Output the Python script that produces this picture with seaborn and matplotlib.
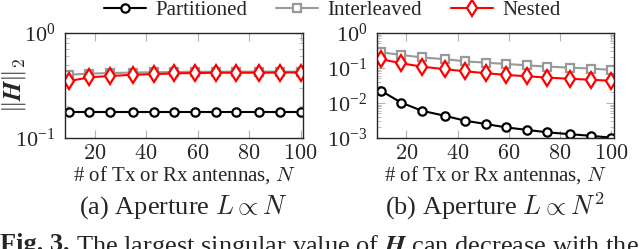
import seaborn as sns
import matplotlib.pyplot as plt
import pandas as pd
import numpy as np
from matplotlib.ticker import LogLocator, NullFormatter

# antenna counts
n_ant = [10, 18, 26, 35, 43, 51, 59, 67, 75, 84, 92, 100]

# (a) aperture L ~ N
part_a = [0.178, 0.178, 0.178, 0.178, 0.178, 0.178, 0.178, 0.178, 0.178, 0.178, 0.178, 0.178]
inter_a = [0.40, 0.41, 0.415, 0.42, 0.422, 0.425, 0.427, 0.427, 0.428, 0.428, 0.428, 0.428]
nest_a = [0.348, 0.378, 0.389, 0.40, 0.405, 0.412, 0.415, 0.418, 0.418, 0.418, 0.42, 0.42]

# (b) aperture L ~ N^2
part_b = [0.0224, 0.0102, 0.0060, 0.0043, 0.0031, 0.0025, 0.0020, 0.0017, 0.00145, 0.00128, 0.00115, 0.00102]
inter_b = [0.28, 0.235, 0.20, 0.178, 0.155, 0.141, 0.13, 0.119, 0.109, 0.102, 0.096, 0.088]
nest_b = [0.178, 0.136, 0.109, 0.092, 0.080, 0.071, 0.063, 0.058, 0.053, 0.049, 0.046, 0.043]

names = ['Partitioned', 'Interleaved', 'Nested']
colors = ['black', '#999999', 'red']
marks = ['o', 's', 'd']
xticks = [20, 40, 60, 80, 100]

sns.set_style('ticks')
plt.rcParams['font.family'] = ['Liberation Serif', 'DejaVu Serif']
plt.rcParams['mathtext.fontset'] = 'cm'
plt.rcParams['font.size'] = 15

fig = plt.figure(figsize=(6.4, 2.49), dpi=100)
ax1 = fig.add_axes([0.1016, 0.446, 0.372, 0.4217])
ax2 = fig.add_axes([0.589, 0.446, 0.370, 0.4217])


def draw(ax, series, ylim):
    '''one panel, three series'''
    for s, nm, c, m in zip(series, names, colors, marks):
        df = pd.DataFrame({'N': n_ant, 'val': s})
        sns.lineplot(data=df, x='N', y='val', ax=ax, color=c, marker=m,
                     mfc='white', mec=c, mew=1.6, ms=6 if m != 'd' else 8,
                     lw=1.5, label=nm, legend=False)
    ax.set_yscale('log')
    ax.set_ylim(ylim)
    ax.set_xlim(8.5, 101)
    ax.set_xticks(xticks, labels=[f'${t}$' for t in xticks])
    ax.yaxis.set_major_locator(LogLocator(base=10, numticks=10))
    ax.yaxis.set_minor_locator(LogLocator(base=10, subs=np.arange(2, 10), numticks=10))
    ax.yaxis.set_minor_formatter(NullFormatter())
    ax.tick_params(which='both', direction='in', color='0.7', top=True, right=True,
                   labelsize=16)
    ax.tick_params(axis='x', pad=5)
    ax.tick_params(axis='y', pad=7)
    ax.tick_params(which='major', length=6)
    ax.tick_params(which='minor', length=3)
    ax.set_xlabel('# of Tx or Rx antennas, $N$', fontsize=15, labelpad=0)
    ax.set_ylabel('')
    for sp in ax.spines.values():
        sp.set_linewidth(1.0)
        sp.set_visible(True)


draw(ax1, [part_a, inter_a, nest_a], (0.1, 1.0))
draw(ax2, [part_b, inter_b, nest_b], (0.001, 1.0))
ax1.set_ylabel(r'$\|\boldsymbol{H}\|_2$', fontsize=18)
ax1.yaxis.set_label_coords(-0.155, 0.5)

handles = ax1.get_lines()[:3]
fig.legend(handles, names, loc='center', bbox_to_anchor=(0.519, 0.958), ncol=3,
           frameon=False, fontsize=15, handlelength=2.0, columnspacing=1.4,
           handletextpad=0.45, borderpad=0, borderaxespad=0)

fig.text(0.287, 0.17, r'(a) Aperture $L \propto N$', ha='center', va='center', fontsize=19)
fig.text(0.774, 0.17, r'(b) Aperture $L \propto N^2$', ha='center', va='center', fontsize=19)

# caption, cut off by the bottom edge like the source
cap1 = fig.text(0.0, 0.066, 'Fig. 3.', ha='left', va='top', fontsize=19, fontweight='bold')
r = fig.canvas.get_renderer()
bb = cap1.get_window_extent(renderer=r)
fig.text((bb.x1 + 7) / fig.bbox.width, 0.066,
         r'The largest singular value of $\boldsymbol{H}$ can decrease with the',
         ha='left', va='top', fontsize=19)

fig.savefig('out.png', dpi=100)
